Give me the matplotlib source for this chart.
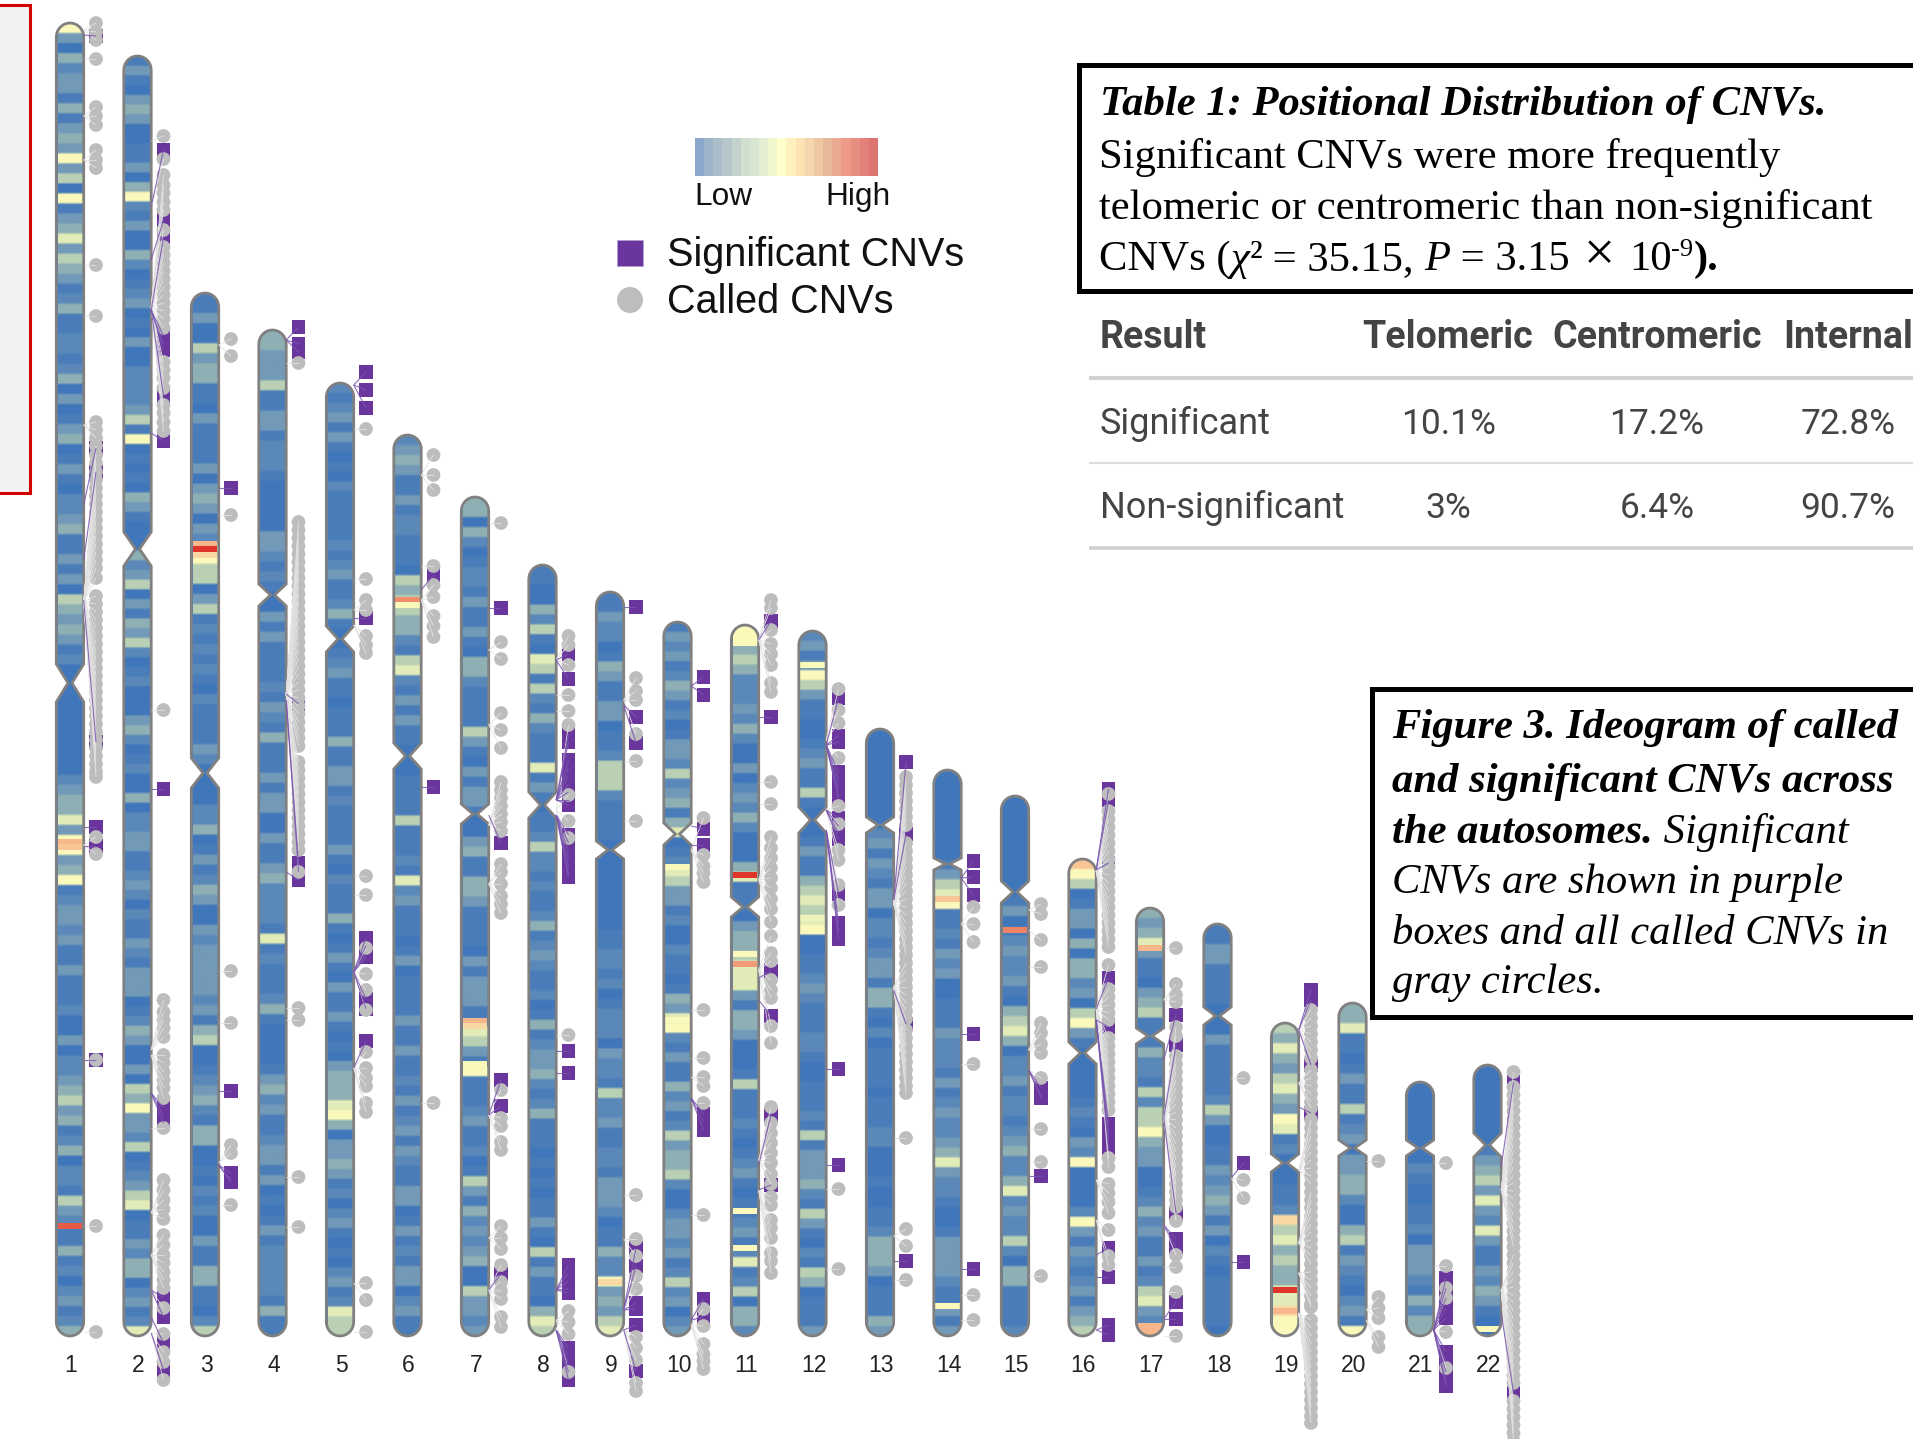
import numpy as np
import matplotlib
matplotlib.use("Agg")
import matplotlib.pyplot as plt
from matplotlib.colors import LinearSegmentedColormap
from matplotlib.path import Path
from matplotlib.patches import PathPatch, Rectangle

# ---------- chromosome geometry (track position, top to bottom) ----------
chrom_names = [str(i) for i in range(1, 23)]
chrom_top = [23,56,293,330,383,435,497,565,592,622,625,631,729,770,796,859,908,924,1023,1003,1082,1065]
chrom_cen = [683,549,773,595,639,756,814,805,850,834,907,820,825,864,892,1053,1036,1016,1163,1148,1148,1145]
chrom_notch = [19,17,15,11,13,13,10,13,9,11,10,13,8,6,11,11,8,9,9,8,8,12]
chrom_end = 1336

# ---------- density per bin, from the top of each chromosome (0 low .. 9 high) ----------
heat_1 = [7,3,0,4,2,3,3,1,4,1,3,4,3,7,3,5,0,7,1,3,4,6,3,5,4,3,1,2,4,1,1,2,2,1,2,4,0,3,0,1,3,4,0,1,3,1,0,2,
          2,3,4,1,1,3,1,3,0,5,4,3,4,3,1,2,0,0,0,0,0,0,0,0,0,0,0,2,3,4,4,6,3,7,7,3,4,7,1,2,3,3,2,3,1,1,3,1,1,1,
          2,0,0,3,0,2,2,3,4,5,3,4,1,2,4,0,2,2,1,5,3,2,1,1,4,1,2,0,2,3,1,2,4]
heat_2 = [1,3,1,0,3,4,3,0,0,1,1,3,0,4,7,2,1,3,0,0,4,2,0,1,2,3,0,1,0,3,0,0,2,2,2,2,3,5,1,7,0,1,0,1,0,
          4,3,1,0,0,0,4,2,3,5,0,3,1,4,3,5,2,0,1,2,0,0,0,3,4,2,0,1,2,0,0,4,0,2,2,3,3,1,1,2,3,2,0,2,1,1,3,2,1,3,
          3,3,0,1,2,4,3,0,0,3,0,5,4,7,3,3,2,5,0,1,2,3,5,6,0,1,1,3,2,4,4,0,2,3,1,2,6]
heat_3 = [1,1,3,0,0,5,3,4,4,1,1,0,3,1,1,1,1,3,0,3,4,3,0,3,2,7,7,5,5,0,3,5,1,2,1,2,1,2,1,0,2,1,1,1,1,3,2,0,0,0,0,2,2,4,0,1,3,1,2,4,3,0,0,3,2,3,3,3,3,3,2,
          3,1,4,5,0,0,1,2,3,4,2,1,4,4,0,0,1,0,2,1,2,0,0,3,1,1,4,4,1,1,0,2,5]
heat_4 = [4,4,3,3,3,5,1,1,3,3,1,2,2,2,1,0,0,0,0,0,3,3,2,1,2,1,0,0,3,1,3,1,1,1,1,2,1,3,2,1,4,1,1,1,3,1,3,3,0,0,3,1,1,3,4,2,2,2,2,1,6,1,2,1,1,1,2,4,1,0,0,0,0,1,3,4,2,3,1,1,2,3,3,1,3,0,1,0,1,3,1,2,2,2,2,2,1,4,1,1]
heat_5 = [2,1,2,3,1,3,1,0,1,0,2,1,1,1,1,1,2,1,2,3,1,1,2,4,1,0,0,1,2,3,1,1,0,1,1,1,4,1,1,3,3,1,2,1,1,1,1,3,1,0,2,1,1,1,4,1,0,1,3,1,0,3,1,1,3,1,0,1,0,3,4,4,4,6,7,4,0,3,3,4,3,1,2,0,2,3,1,0,1,0,2,3,1,2,6,5,5]
heat_6 = [2,3,4,3,1,1,3,1,2,2,1,1,1,0,5,4,5,5,4,4,2,1,5,6,2,1,3,1,3,1,1,0,0,0,1,1,1,1,5,1,1,1,2,1,6,2,3,1,1,1,0,1,3,0,1,1,1,1,3,1,1,3,1,1,2,1,3,1,2,3,1,3,2,1,1,3,3,0,1,3,1,2,1,3,3,0,2,3,1,1]
heat_7 = [4,4,0,4,2,0,1,2,2,1,3,1,1,3,1,0,4,4,2,1,1,1,1,5,3,1,0,3,1,3,3,1,0,0,3,4,1,1,4,4,3,1,1,1,1,0,3,1,3,3,3,1,1,6,5,3,1,7,1,1,1,2,3,1,1,2,0,1,5,3,1,4,2,3,2,3,4,0,0,5,3,3,2,3]
heat_8 = [1,1,0,0,4,2,5,1,0,6,5,1,5,2,1,4,2,1,1,1,6,1,3,1,0,1,1,2,5,2,2,1,2,1,1,2,4,1,2,3,2,1,1,2,0,1,4,1,2,3,3,4,2,1,2,4,1,1,1,0,1,0,1,0,1,1,3,1,0,5,1,3,1,1,0,4,6,5]
heat_9 = [1,1,3,2,2,0,1,4,3,1,1,3,3,0,1,1,2,5,5,5,2,1,1,1,1,0,0,0,0,0,0,0,0,0,1,1,2,2,1,2,0,1,2,2,2,0,3,2,2,1,5,2,2,3,1,1,2,2,1,3,3,3,2,0,1,1,4,2,2,7,3,4,3,5,6]
heat_10 = [1,3,2,3,1,2,4,3,1,2,0,1,3,3,2,5,2,3,4,1,4,6,0,1,2,6,5,3,3,1,2,0,0,2,1,1,0,1,4,3,6,7,2,1,3,1,1,4,2,3,1,2,5,3,4,4,5,2,0,0,2,3,3,2,3,1,2,5,2,3,0,2,3]
heat_11 = [7,7,4,5,4,2,2,2,3,2,4,2,0,0,3,0,2,3,2,4,2,0,0,0,4,6,1,1,1,0,3,4,4,5,6,6,6,3,1,4,4,3,0,0,0,1,5,1,1,1,2,1,0,1,2,3,1,0,1,1,2,3,1,2,6,1,2,5,0,4,4,2]
heat_12 = [2,3,1,3,7,5,3,1,1,0,0,1,2,3,1,1,5,1,0,0,0,1,3,1,1,4,5,6,5,6,7,0,0,1,1,2,3,2,1,1,1,2,2,1,0,0,1,1,1,2,1,5,1,3,3,3,4,2,1,5,3,1,0,2,1,5,4,0,1,1,1,3]
heat_13 = [0,0,0,0,0,0,0,0,0,0,2,3,1,3,2,1,3,3,0,2,2,1,2,3,3,1,4,4,1,0,2,0,1,1,1,1,0,1,1,1,2,2,0,0,0,1,0,0,1,1,2,4,4,4,3,0,1,1,1,4,3]
heat_14 = [0,0,0,0,0,0,0,0,0,1,3,5,6,7,1,1,2,1,3,2,3,0,0,1,1,1,3,2,2,2,1,3,1,2,3,2,2,3,4,6,3,2,2,1,0,0,1,3,3,3,3,2,1,1,3,1,3]
heat_15 = [0,0,0,0,0,0,0,0,0,0,1,3,0,1,2,3,2,2,3,1,0,4,5,6,4,0,2,2,3,1,2,2,1,2,3,4,2,2,4,6,2,3,2,2,5,2,0,4,4,1,1,1,1,2]
heat_16 = [7.8,7,5,0,1,3,3,0,4,0,4,4,2,3,0,5,7,3,1,0,0,0,0,0,1,2,1,0,3,2,7,0,0,0,0,2,7,3,1,3,2,1,2,3,1,3,4,5]
heat_17 = [4,3,4,6,3,1,1,0,3,4,5,1,1,1,4,2,2,1,5,2,5,5,7,4,3,3,0,0,1,2,4,2,3,1,1,3,1,2,5,6,3,2,8]
heat_18 = [1,1,3,3,1,1,1,1,0,0,0,3,1,1,1,1,1,2,5,3,0,0,1,1,3,2,3,4,3,1,3,0,2,1,0,1,1,1,1,1,0]
heat_19 = [5,4,6,4,3,5,6,4,3,7,6,1,2,0,0,0,1,1,2,7.5,5,6,4,5,4,4,6,6,7.5,7,7]
heat_20 = [4,4,6,1,1,0,1,3,1,1,5,1,2,3,0,3,3,4,4,2,0,0,4,5,1,3,2,1,0,2,3,1,7]
heat_21 = [0,0,0,0,0,0,0,0,2,1,0,0,1,1,2,0,3,3,3,2,1,4,2,4,4]
heat_22 = [0,0,0,0,0,0,0,0,1,3,4,5,3,6,3,2,6,3,1,1,3,2,4,3,1,0,0]
heats = [heat_1,heat_2,heat_3,heat_4,heat_5,heat_6,heat_7,heat_8,heat_9,heat_10,heat_11,
         heat_12,heat_13,heat_14,heat_15,heat_16,heat_17,heat_18,heat_19,heat_20,heat_21,heat_22]

# narrow peaks: chromosome, track position, density
peak_chrom = [1,1,1,3,3,3,6,6,7,7,7,9,10,10,11,11,11,11,11,11,12,12,12,14,14,15,17,17,19,19,22]
peak_pos   = [842,847,1226,544,549,555,600,605,1021,1026,1064,1282,1020,867,875,964,643,954,1211,1248,665,931,918,899,1306,930,948,1326,1290,1311,1329]
peak_val   = [8,7.8,8.7,8,9.5,7.5,8.3,7,8,7.5,7,7.5,7,7,9.7,8.2,7,7,7,7,7,7,6.5,7.8,7,8.4,8,8,9.2,8,7]

# ---------- CNVs: (position on the chromosome, [positions of the drawn markers]) ----------
called_1 = [(30,[23,32,40]),(59,[59]),(116,[107,116,125]),(160,[150,160,168]),(265,[265]),(316,[316]),(425,[422,430,438]),
            (602,[446,455,463,472,480,488,496,504,512,520,528,536,544,552,560,568,578,596,604,612,620,628,636,644,652,660,668,676,684,692,700,708,716,724,732,740,748,756,764,772,777]),
            (845,[837,854]),(1060,[1060]),(1226,[1226]),(1332,[1332])]
sig_1 = [(35,[36]),(505,[448]),(560,[472]),(600,[742]),(827,[827]),(846,[846]),(1060,[1060])]
called_2 = [(141,[136]),(207,[159]),(307,[175,185,193,202,210,230,247,255,263,271,279,287,295,303,311,319,328,362,370,378,388,405,413,422,431]),(710,[710]),
            (1050,[1000,1012,1020,1028,1037]),(1055,[1055,1063,1072,1080,1088,1098]),(1128,[1128]),(1213,[1180,1190,1200,1209,1219]),(1255,[1235,1245,1255,1263,1272,1280,1288]),(1290,[1308]),(1333,[1334,1352,1362,1380])]
sig_2 = [(207,[150]),(260,[220]),(310,[237,336,344,350,396]),(433,[441]),(789,[789]),(1093,[1108,1116,1123]),(1290,[1298,1317]),(1317,[1343]),(1333,[1370])]
called_3 = [(345,[339,356]),(515,[515]),(971,[971]),(1023,[1023]),(1163,[1145,1153]),(1205,[1205])]
sig_3 = [(488,[488]),(1091,[1091]),(1165,[1173,1180,1182])]
called_4 = [(363,[363]),(694,[522,530,538,546,554,562,570,578,586,594,602,610,618,626,634,642,650,658,666,674,682,690,698,706,714,722,730,738,746,762,770,778,786,794,802,810,818,826,834,842,850,872]),(1008,[1008]),(1020,[1020]),(1177,[1177]),(1227,[1227])]
sig_4 = [(340,[327,344,352]),(694,[704]),(700,[863,872]),(872,[880])]
called_5 = [(429,[429]),(579,[579]),(610,[600,610]),(625,[636,645,653]),(876,[876]),(895,[895]),(972,[948,974,990,1010]),(1068,[1052,1068,1078,1086,1103,1112]),(1283,[1283,1300]),(1332,[1332])]
sig_5 = [(385,[372,390,408]),(618,[618]),(972,[938,946,954,957,999,1009]),(1068,[1041])]
called_6 = [(475,[455,475,490]),(566,[566]),(600,[585,597,616,626,637]),(1103,[1103])]
sig_6 = [(590,[575]),(787,[787])]
called_7 = [(523,[523]),(650,[642,659]),(725,[713,730,748]),(825,[782,790,798,806,814,822,831]),(884,[864,872,884,896,904,913]),(1115,[1090,1118,1126,1142,1150]),(1238,[1226,1238,1249]),(1290,[1265,1282,1291,1299,1317,1327])]
sig_7 = [(608,[608]),(815,[843]),(1115,[1080,1106]),(1290,[1274])]
called_8 = [(660,[636,645,665]),(695,[695]),(711,[711]),(810,[725,795,821,838]),(1035,[1035]),(1320,[1311,1322,1334,1372])]
sig_8 = [(660,[654,679]),(800,[734,742,760,768,776,784,792,800,805]),(815,[835,843,851,859,867,875,877]),(1051,[1051]),(1073,[1073]),(1290,[1265,1273,1281,1289,1293]),(1330,[1348,1356,1364,1372,1380])]
called_9 = [(700,[678,691,700,734]),(761,[761]),(821,[821]),(1195,[1195]),(1239,[1239,1256]),(1310,[1276,1289]),(1330,[1337,1348,1360,1383,1391])]
sig_9 = [(607,[607]),(705,[717,743]),(1310,[1248,1266,1303,1309]),(1330,[1325,1371])]
called_10 = [(1010,[1010]),(1058,[1058]),(1077,[1077,1086]),(1103,[1103]),(850,[818,855,866,873,882]),(1215,[1215]),(1325,[1309,1326,1344,1354,1361,1369])]
sig_10 = [(686,[677,695]),(826,[829]),(845,[845]),(1098,[1114,1122,1130]),(1320,[1299,1317])]
called_11 = [(640,[600,608,630,644,654,665,683,692]),(782,[782]),(804,[804]),(880,[837,848,858,868,878,888,899,909,922]),(970,[936,953,961,980,990,998,1026,1043]),(1160,[1107,1123,1133,1143,1153,1163,1174,1184]),(1190,[1197,1205,1220,1228,1238,1253,1261,1273])]
sig_11 = [(640,[621]),(717,[717]),(978,[971]),(1000,[1016]),(1165,[1115]),(1190,[1185])]
called_12 = [(740,[689,710,723,758]),(810,[806,824,850,860]),(830,[885,905]),(1189,[1189]),(1269,[1269])]
sig_12 = [(745,[698,736,742,772,780,788,796,798]),(810,[818,826,834,839]),(830,[894,923,931,939]),(1069,[1069]),(1165,[1165])]
called_13 = [(904,[777,785,793,801,809,817,825,843,851,859,867,875,883,891,899,907,915,923,931,939,947,955]),(987,[963,971,979,987,995,1003,1011,1019,1030,1038,1046,1054,1062,1070,1078,1086,1093]),(1138,[1138]),(1236,[1229,1246]),(1280,[1280])]
sig_13 = [(900,[762,834]),(990,[1024]),(1261,[1261])]
called_14 = [(924,[907,924,942]),(1064,[1064]),(1295,[1295]),(1320,[1320])]
sig_14 = [(878,[861,877,895]),(1034,[1034]),(1269,[1269])]
called_15 = [(910,[904,914]),(930,[940]),(967,[967]),(1050,[1023,1033,1044,1053]),(1070,[1078]),(1129,[1129]),(1162,[1162]),(1276,[1276])]
sig_15 = [(1070,[1088,1096,1098]),(1176,[1176])]
called_16 = [(871,[794,811,819,827,835,843,851,859,867,875,883,891,899,907,915,923,931,939,947]),(1009,[965,989,997,1005,1013,1020,1038,1046,1054,1062,1070,1078,1086,1094,1102,1110,1158,1167]),(1180,[1184,1193,1202,1213]),(1220,[1230,1256,1265])]
sig_16 = [(870,[789,800,863]),(1009,[978]),(1020,[1027,1124,1132,1140,1148]),(1255,[1248]),(1277,[1277]),(1330,[1325,1335])]
called_17 = [(948,[948]),(1000,[984,995,1002]),(1118,[1027,1036,1056,1064,1072,1080,1088,1096,1104,1112,1120,1128,1136,1144,1152,1160,1168,1176,1184,1192,1200,1207,1221]),(1225,[1255]),(1267,[1267]),(1292,[1292]),(1336,[1336])]
sig_17 = [(1060,[1015]),(1118,[1045,1213]),(1225,[1239,1247]),(1319,[1302,1319])]
called_18 = [(1078,[1078]),(1178,[1180,1198])]
sig_18 = [(1178,[1163]),(1262,[1262])]
called_19 = [(1030,[1010,1018,1026,1034,1042,1050,1058]),(1083,[1070,1078,1086,1094,1102,1108]),(1170,[1120,1128,1136,1144,1152,1160,1168,1176,1184]),(1243,[1192,1200,1208,1216,1224,1232,1240,1248,1256,1264]),(1273,[1272,1280,1288,1296,1304,1307]),(1313,[1320,1328,1336,1344,1352,1360,1368,1376,1384,1392,1400,1408,1416,1423])]
sig_19 = [(1030,[990,1000,1065]),(1107,[1113])]
called_20 = [(1161,[1161]),(1310,[1297,1308,1318]),(1320,[1337,1347])]
sig_20 = []
called_21 = [(1163,[1163]),(1266,[1266]),(1330,[1288,1298,1332,1368])]
sig_21 = [(1330,[1278,1288,1298,1308,1318,1352,1362,1372,1382,1386])]
called_22 = [(1190,[1072,1087,1095,1103,1111,1119,1127,1135,1143,1151,1159,1167,1175,1183,1191,1199,1207,1215,1223,1231,1239,1247]),
             (1290,[1255,1263,1271,1279,1287,1295,1303,1311,1319,1327,1335,1343,1351,1359,1367,1375,1383,1401,1409,1417,1425,1433,1441])]
sig_22 = [(1167,[1082]),(1313,[1393])]
called_all = [called_1,called_2,called_3,called_4,called_5,called_6,called_7,called_8,called_9,called_10,called_11,
              called_12,called_13,called_14,called_15,called_16,called_17,called_18,called_19,called_20,called_21,called_22]
sig_all = [sig_1,sig_2,sig_3,sig_4,sig_5,sig_6,sig_7,sig_8,sig_9,sig_10,sig_11,
           sig_12,sig_13,sig_14,sig_15,sig_16,sig_17,sig_18,sig_19,sig_20,sig_21,sig_22]

# ---------- table ----------
table_head = ["Result", "Telomeric", "Centromeric", "Internal"]
table_rows = [["Significant", "10.1%", "17.2%", "72.8%"],
              ["Non-significant", "3%", "6.4%", "90.7%"]]

legend_steps = ['#8aa8cc','#9db3ca','#abbdc9','#b6c7cb','#c3d2cc','#d0dfcf','#d9e6d1','#e2edd2','#f0f5cc','#ffffcc',
                '#fff0c0','#fde2b4','#f5d5ae','#eec8a2','#e8b89a','#eba990','#ee9a88','#e68f80','#e2807a','#dd7570']

# ---------- figure ----------
W, H = 1913, 1439
fig = plt.figure(figsize=(W/100, H/100), dpi=100, facecolor='white')
X0, DX = 70.0, 67.5            # pixel of chromosome 1, pixels per chromosome
ax = fig.add_axes([0, 0, 1, 1])
ax.set_xlim(1 - X0/DX, 1 + (W - X0)/DX)
ax.set_ylim(H, 0)
ax.axis('off')
ov = fig.add_axes([0, 0, 1, 1], facecolor='none')
ov.set_xlim(0, W); ov.set_ylim(H, 0); ov.axis('off')

heat_cmap = LinearSegmentedColormap.from_list('heat', [
    (0/9,'#4076ba'),(1/9,'#4a7db9'),(2/9,'#5a89ba'),(3/9,'#729ab8'),(4/9,'#8fb0b4'),(5/9,'#b9d0b4'),
    (6/9,'#e2ecb8'),(7/9,'#fbfabc'),(8/9,'#f8b98c'),(1.0,'#e0352a')])

HW = 13.7/DX; PINCH = 2/DX; R = 14
PURPLE = '#6a359c'; GRAY = '#bdbdbd'; OUT = '#808080'
OFF = 26/DX

def chrom_path(i, top, cen, bot, notch):
    t = np.linspace(np.pi, 0, 16)
    topx = i + HW*np.cos(t); topy = top + R - R*np.sin(t)
    t2 = np.linspace(0, -np.pi, 16)
    botx = i + HW*np.cos(t2); boty = bot - R - R*np.sin(t2)
    xs = list(topx) + [i+HW, i+PINCH, i+HW] + list(botx) + [i-HW, i-PINCH, i-HW]
    ys = list(topy) + [cen-notch, cen, cen+notch] + list(boty) + [cen+notch, cen, cen-notch]
    xs.append(xs[0]); ys.append(ys[0])
    return Path(np.column_stack([xs, ys]), closed=True)

for k in range(22):
    i = k + 1
    path = chrom_path(i, chrom_top[k], chrom_cen[k], chrom_end, chrom_notch[k])
    clip = PathPatch(path, transform=ax.transData, facecolor='#4a7cba', edgecolor='none', zorder=1)
    ax.add_patch(clip)
    # bins repeated so that the interpolation only softens the band edges
    arr = np.repeat(np.array(heats[k], dtype=float).reshape(-1, 1), 4, axis=0)
    im = ax.imshow(arr, cmap=heat_cmap, vmin=0, vmax=9, aspect='auto', interpolation='bilinear',
                   extent=(i-HW*0.88, i+HW*0.88, chrom_end, chrom_top[k]), zorder=1.5, origin='upper')
    im.set_clip_path(clip)
    # narrow peaks
    for c, p, v in zip(peak_chrom, peak_pos, peak_val):
        if c == i:
            b = ax.bar(i, 5.5, bottom=p-2.75, width=2*HW*0.88, color=heat_cmap(v/9), zorder=1.7, linewidth=0)
            for r in b: r.set_clip_path(clip)
    ax.add_patch(PathPatch(path, facecolor='none', edgecolor=OUT, linewidth=2.0, zorder=2, joinstyle='miter'))

    mx = i + OFF
    # significant: squares
    for src, ys in sig_all[k]:
        ax.scatter([mx]*len(ys), ys, marker='s', s=98, color=PURPLE, edgecolors='none', zorder=3)
    for src, ys in called_all[k]:
        ax.scatter([mx]*len(ys), ys, marker='o', s=98, color=GRAY, edgecolors='none', zorder=4)
    for src, ys in called_all[k]:
        for y in ys:
            ax.plot([i+HW, mx], [src, y], color='#e2e2e2', lw=0.6, zorder=4.5, solid_capstyle='butt')
    for src, ys in sig_all[k]:
        for y in ys:
            ax.plot([i+HW, mx], [src, y], color='#7a55b0', lw=0.8, alpha=0.85, zorder=5, solid_capstyle='butt')
    ax.text(i + 1/DX, 1366, chrom_names[k], ha='center', va='center', fontsize=16.5,
            family='Liberation Sans', color='#222222', zorder=6)
ax.set_xlim(1 - X0/DX, 1 + (W - X0)/DX)
ax.set_ylim(H, 0)

# red panel at the left edge
ov.add_patch(Rectangle((-10, 5), 40, 488, facecolor='#f2f2f2', edgecolor='#d40000', linewidth=2.2, clip_on=True))

# colour legend
ov.imshow(np.arange(20).reshape(1, -1), cmap=matplotlib.colors.ListedColormap(legend_steps), aspect='auto',
          extent=(695, 878, 176, 138), interpolation='nearest', zorder=2)
ov.set_xlim(0, W); ov.set_ylim(H, 0)
ov.text(694, 205, 'Low', fontsize=22.8, family='Liberation Sans', color='#111111', va='baseline')
ov.text(825, 205, 'High', fontsize=22.8, family='Liberation Sans', color='#111111', va='baseline')
ov.scatter([630], [253], marker='s', s=(26*0.72)**2, color=PURPLE, edgecolors='#b59fd6', linewidths=0.5)
ov.scatter([630], [300], marker='o', s=(26*0.72)**2, color=GRAY, edgecolors='none')
ov.text(667, 266, 'Significant CNVs', fontsize=28.5, family='Liberation Sans', color='#111111', va='baseline')
ov.text(667, 313, 'Called CNVs', fontsize=28.5, family='Liberation Sans', color='#111111', va='baseline')

# text boxes
ov.add_patch(Rectangle((1079, 65), 900, 226, facecolor='white', edgecolor='black', linewidth=3.6, zorder=3))
ov.add_patch(Rectangle((1372, 689), 700, 328, facecolor='white', edgecolor='black', linewidth=3.6, zorder=3))

SERIF = 'Liberation Serif'
def runs(x, y, parts, size):
    r = fig.canvas.get_renderer()
    for txt, weight, style, scale, dy in parts:
        t = ov.text(x, y + dy, txt, family=SERIF, fontsize=size*scale, fontweight=weight, fontstyle=style,
                    va='baseline', ha='left', color='black', zorder=5)
        x += t.get_window_extent(r).width

S1 = 30.7
runs(1100, 115, [('Table 1: Positional Distribution of CNVs.', 'bold', 'italic', 1, 0)], S1)
runs(1099, 168, [('Significant CNVs were more frequently', 'normal', 'normal', 1, 0)], S1)
runs(1099, 219, [('telomeric or centromeric than non-significant', 'normal', 'normal', 1, 0)], S1)
runs(1099, 270, [('CNVs (', 'normal', 'normal', 1, 0), ('χ', 'normal', 'italic', 1, 0), ('²', 'normal', 'normal', 1, 0),
                 (' = 35.15, ', 'normal', 'normal', 1, 0), ('P', 'normal', 'italic', 1, 0), (' = 3.15', 'normal', 'normal', 1, 0),
                 (' × ', 'normal', 'normal', 1.3, 0), ('10', 'normal', 'normal', 1, 0), ('-9', 'normal', 'normal', 0.62, -14),
                 (').', 'bold', 'normal', 1, 0)], S1)

S2 = 30.7
runs(1392, 738, [('Figure 3. Ideogram of called', 'bold', 'italic', 1, 0)], S2)
runs(1392, 792, [('and significant CNVs across', 'bold', 'italic', 1, 0)], S2)
runs(1392, 843, [('the autosomes.', 'bold', 'italic', 1, 0), (' Significant', 'normal', 'italic', 1, 0)], S2)
runs(1392, 893, [('CNVs are shown in purple', 'normal', 'italic', 1, 0)], S2)
runs(1392, 943, [('boxes and all called CNVs in', 'normal', 'italic', 1, 0)], S2)
runs(1392, 993, [('gray circles.', 'normal', 'italic', 1, 0)], S2)

# table
TF = 'Roboto'; TC = '#444444'
col_x = [1100, 1448, 1657, 1848]
for j, h in enumerate(table_head):
    ov.text(col_x[j], 348, h, family=TF, fontsize=27, fontweight='bold', color=TC,
            ha='left' if j == 0 else 'center', va='baseline', zorder=4)
for r, row, yb in zip(range(2), table_rows, [434, 518]):
    for j, v in enumerate(row):
        ov.text(col_x[j], yb, v, family=TF, fontsize=26 if j == 0 else 25.5, color=TC,
                ha='left' if j == 0 else 'center', va='baseline', zorder=4)
ov.plot([1089, W], [378, 378], color='#d0d0d0', lw=3, solid_capstyle='butt')
ov.plot([1089, W], [463, 463], color='#dddddd', lw=1.6, solid_capstyle='butt')
ov.plot([1089, W], [548, 548], color='#d0d0d0', lw=2.6, solid_capstyle='butt')
ov.set_xlim(0, W); ov.set_ylim(H, 0)

fig.savefig('out.png', dpi=100)
